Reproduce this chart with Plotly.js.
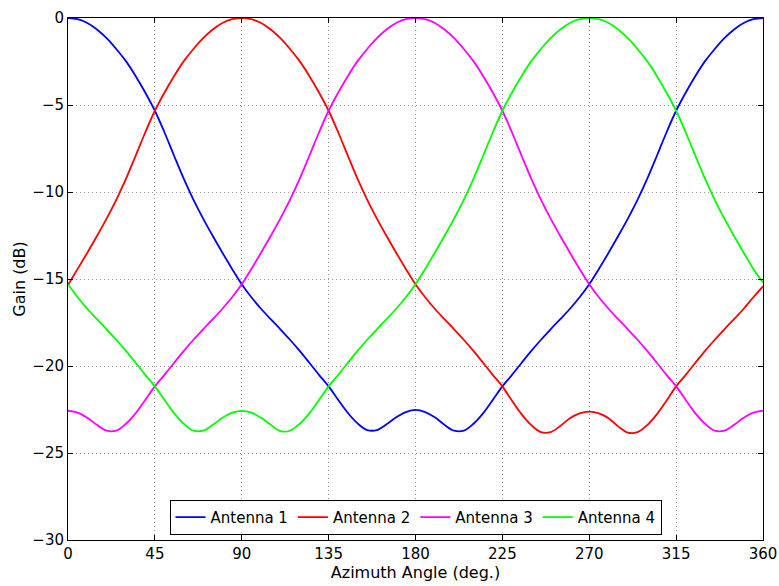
<!DOCTYPE html>
<html>
<head>
<meta charset="utf-8">
<script src="https://cdn.plot.ly/plotly-3.0.1.min.js"></script>
<style>html,body{margin:0;padding:0;background:#fff;}#chart{width:779px;height:586px;}</style>
</head>
<body>
<div id="chart"></div>
<script>
// Azimuth angles (deg), 5-degree steps
const azimuth = [0,5,10,15,20,25,30,35,40,45,50,55,60,65,70,75,80,85,90,95,100,105,110,115,120,125,130,135,140,145,150,155,160,165,170,175,180,185,190,195,200,205,210,215,220,225,230,235,240,245,250,255,260,265,270,275,280,285,290,295,300,305,310,315,320,325,330,335,340,345,350,355,360];

const antenna1 = [0,-0.07,-0.29,-0.66,-1.16,-1.78,-2.48,-3.33,-4.28,-5.33,-6.58,-7.93,-9.25,-10.45,-11.53,-12.53,-13.49,-14.42,-15.3,-16.05,-16.71,-17.31,-17.89,-18.49,-19.13,-19.81,-20.51,-21.17,-21.95,-22.7,-23.3,-23.68,-23.68,-23.35,-22.95,-22.65,-22.52,
  -22.65,-22.95,-23.38,-23.72,-23.72,-23.32,-22.72,-21.95,-21.17,-20.51,-19.81,-19.13,-18.49,-17.89,-17.31,-16.71,-16.05,-15.3,-14.42,-13.49,-12.53,-11.53,-10.45,-9.25,-7.93,-6.58,-5.33,-4.28,-3.33,-2.48,-1.78,-1.16,-0.66,-0.29,-0.07,0];

const antenna2 = [-15.35,-14.42,-13.49,-12.53,-11.53,-10.45,-9.25,-7.93,-6.58,-5.33,-4.28,-3.33,-2.48,-1.78,-1.16,-0.66,-0.29,-0.07,0,
  -0.07,-0.29,-0.66,-1.16,-1.78,-2.48,-3.33,-4.28,-5.33,-6.58,-7.93,-9.25,-10.45,-11.53,-12.53,-13.49,-14.42,-15.3,-16.05,-16.71,-17.31,-17.89,-18.49,-19.13,-19.81,-20.51,-21.17,-22.0,-22.78,-23.4,-23.8,-23.8,-23.45,-23.0,-22.72,-22.62,
  -22.72,-23.0,-23.47,-23.83,-23.8,-23.4,-22.78,-22.0,-21.17,-20.51,-19.81,-19.13,-18.49,-17.89,-17.31,-16.71,-16.05,-15.42];

const antenna3 = [-22.57,-22.68,-22.98,-23.38,-23.72,-23.72,-23.32,-22.72,-21.95,-21.17,-20.51,-19.81,-19.13,-18.49,-17.89,-17.31,-16.71,-16.05,-15.3,-14.42,-13.49,-12.53,-11.53,-10.45,-9.25,-7.93,-6.58,-5.33,-4.28,-3.33,-2.48,-1.78,-1.16,-0.66,-0.29,-0.07,0,
  -0.07,-0.29,-0.66,-1.16,-1.78,-2.48,-3.33,-4.28,-5.33,-6.58,-7.93,-9.25,-10.45,-11.53,-12.53,-13.49,-14.42,-15.3,-16.05,-16.71,-17.31,-17.89,-18.49,-19.13,-19.81,-20.51,-21.17,-21.95,-22.72,-23.32,-23.72,-23.72,-23.38,-22.98,-22.68,-22.57];

const antenna4 = [-15.3,-16.05,-16.71,-17.31,-17.89,-18.49,-19.13,-19.81,-20.51,-21.17,-21.95,-22.72,-23.32,-23.72,-23.72,-23.38,-22.98,-22.68,-22.58,
  -22.68,-22.98,-23.38,-23.74,-23.72,-23.32,-22.72,-21.95,-21.17,-20.51,-19.81,-19.13,-18.49,-17.89,-17.31,-16.71,-16.05,-15.3,-14.42,-13.49,-12.53,-11.53,-10.45,-9.25,-7.93,-6.58,-5.33,-4.28,-3.33,-2.48,-1.78,-1.16,-0.66,-0.29,-0.07,0,
  -0.07,-0.29,-0.66,-1.16,-1.78,-2.48,-3.33,-4.28,-5.33,-6.58,-7.93,-9.25,-10.45,-11.53,-12.53,-13.49,-14.42,-15.2];

const seriesNames = ["Antenna 1","Antenna 2","Antenna 3","Antenna 4"];
const seriesColors = ["#0000ff","#ff0000","#ff00ff","#00ff00"];
const xTicks = [0,45,90,135,180,225,270,315,360];
const yTicks = [0,-5,-10,-15,-20,-25,-30];

const allSeries = [antenna1, antenna2, antenna3, antenna4];
const traces = allSeries.map((ys, i) => ({
  x: azimuth, y: ys, type: 'scatter', mode: 'lines', name: seriesNames[i],
  line: {color: seriesColors[i], width: 1.8, shape: 'spline', smoothing: 1}
}));

const axisCommon = {
  showline: true, linecolor: '#000', linewidth: 1, mirror: 'ticks',
  ticks: 'inside', ticklen: 5, tickcolor: '#000',
  showgrid: true, gridcolor: '#9a9a9a', griddash: '1px,3px', gridwidth: 1,
  zeroline: false, tickfont: {size: 15, color: '#000'}
};

const layout = {
  width: 779, height: 586,
  margin: {l: 68, r: 16, t: 18, b: 46},
  paper_bgcolor: '#fff', plot_bgcolor: '#fff',
  font: {family: 'DejaVu Sans, Arial, sans-serif', size: 15, color: '#000'},
  xaxis: Object.assign({}, axisCommon, {
    range: [0, 360], tickmode: 'array', tickvals: xTicks, ticktext: xTicks.map(String),
    title: {text: 'Azimuth Angle (deg.)', font: {size: 16}, standoff: 0}
  }),
  yaxis: Object.assign({}, axisCommon, {
    range: [-30, 0], tickmode: 'array', tickvals: yTicks,
    title: {text: 'Gain (dB)', font: {size: 16}, standoff: 2}
  }),
  showlegend: true,
  legend: {
    orientation: 'h', x: 0.5, xanchor: 'center', y: 0.01, yanchor: 'bottom',
    bgcolor: '#fff', bordercolor: '#000', borderwidth: 1,
    font: {size: 15}, itemwidth: 30, tracegroupgap: 0
  }
};

Plotly.newPlot('chart', traces, layout, {displayModeBar: false, staticPlot: true});
</script>
</body>
</html>
